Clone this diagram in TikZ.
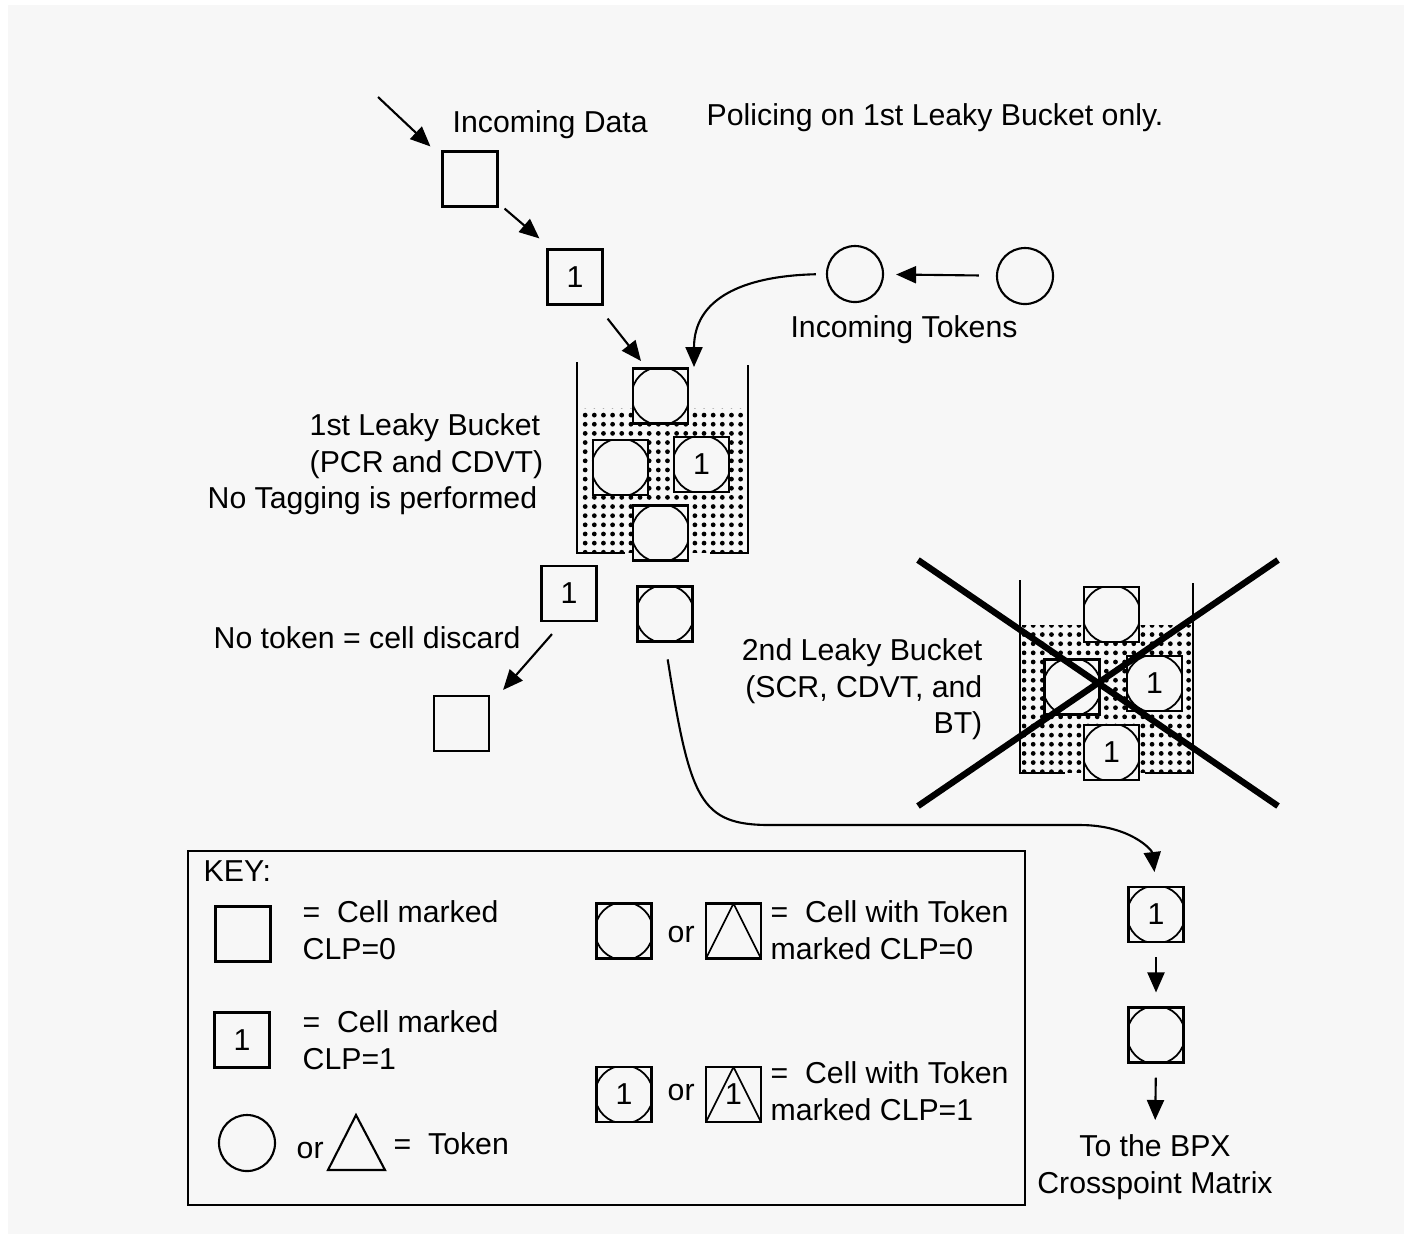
\documentclass[tikz,border=0pt]{standalone}
\usepackage{fontspec}
\setmainfont{Liberation Sans}
\usetikzlibrary{arrows.meta,patterns}
\definecolor{bg}{HTML}{F7F7F7}
\pgfdeclarepatternformonly{stipple}{\pgfpoint{-1pt}{-1pt}}{\pgfpoint{1pt}{1pt}}{\pgfpoint{2.6pt}{2.6pt}}{\pgfpathcircle{\pgfpointorigin}{0.68pt}\pgfusepath{fill}}
\tikzset{
  cell/.style={draw, rectangle, fill=bg, minimum size=0.55cm, inner sep=0pt, line width=0.6pt},
  tokcell/.style={cell, path picture={\draw[line width=0.5pt] (path picture bounding box.center) circle (0.29cm);}},
  tricell/.style={cell, path picture={\draw[line width=0.5pt] (path picture bounding box.south west) -- (path picture bounding box.north) -- (path picture bounding box.south east);}},
  token/.style={draw, circle, minimum size=0.56cm, inner sep=0pt, line width=0.6pt},
  txt/.style={inner sep=0pt},
  arr/.style={-{Triangle[length=0.2cm,width=0.17cm]}, line width=0.6pt},
  wall/.style={line width=0.6pt},
  liquid/.style={pattern=stipple, draw=none}
}
\begin{document}
\begin{tikzpicture}[x=0.01cm, y=-0.01cm, font=\fontsize{8.6}{10.4}\selectfont]
  \useasboundingbox (0,0) rectangle (1409,1238);
  \fill[white] (0,0) rectangle (1409,1238);
  \fill[bg] (8,5) rectangle (1404,1234);

  % Buckets
  \fill[liquid] (579,408) rectangle (746,552);
  \draw[wall] (577,362) -- (577,553) -- (625,553);
  \draw[wall] (748,365) -- (748,553) -- (710,553);
  \fill[liquid] (1022,625) rectangle (1191,772);
  \draw[wall] (1020,580) -- (1020,773) -- (1065,773);
  \draw[wall] (1193,583) -- (1193,773) -- (1145,773);

  % Nodes
  \node[txt, anchor=base west] (title) at (706,125) {Policing on 1st Leaky Bucket only.};
  \node[txt, anchor=base west] (datalbl) at (452,132) {Incoming Data};
  \coordinate (din) at (378,97);
  \node[cell] (d0) at (470,179) {};
  \node[cell] (d1) at (575,277) {1};

  \node[token] (tok1) at (855,274) {};
  \node[token] (tok2) at (1025,276) {};
  \node[txt, anchor=base] (toklbl) at (904,337) {Incoming Tokens};

  \coordinate (b1in) at (641,361);
  \coordinate (tokin) at (694,367);
  \node[tokcell] (b1top) at (660.5,396) {};
  \node[tokcell] (b1left) at (620.5,467.5) {};
  \node[tokcell] (b1right) at (701.5,464.5) {1};
  \node[tokcell] (b1bot) at (660.5,533) {};
  \node[txt, anchor=north west, align=left] (b1lbl) at (309,413) {1st Leaky Bucket\\(PCR and CDVT)};
  \node[txt, anchor=base west] (b1tag) at (207,508) {No Tagging is performed};

  \node[cell] (d2) at (569,593.5) {1};
  \node[tokcell] (t0) at (665,614) {};
  \node[txt, anchor=base west] (discard) at (213,648) {No token = cell discard};
  \node[cell] (d3) at (461.5,723.5) {};

  \node[tokcell] (b2top) at (1111.5,614.5) {};
  \node[tokcell] (b2left) at (1072,687) {};
  \node[tokcell] (b2right) at (1154.5,683.5) {1};
  \node[tokcell] (b2bot) at (1111.5,752.5) {1};
  \node[txt, anchor=north east, align=right] (b2lbl) at (983,638) {2nd Leaky Bucket\\(SCR, CDVT, and\\BT)};
  \draw[line width=1.8pt] (918,560) -- (1278,806);
  \draw[line width=1.8pt] (918,806) -- (1278,560);

  \node[tokcell] (c1) at (1156,914.5) {1};
  \node[tokcell] (c2) at (1156,1035) {};
  \node[txt, anchor=north, align=center] (bpx) at (1155,1134) {To the BPX\\Crosspoint Matrix};

  % Key
  \draw[line width=0.8pt] (188,851) rectangle (1025,1205);
  \node[txt, anchor=base west] (keylbl) at (203,881) {KEY:};
  \node[cell] (k0) at (243,934) {};
  \node[txt, anchor=north west, align=left] (k0lbl) at (302,900) {=~~Cell marked\\CLP=0};
  \node[cell] (k1) at (242,1040) {1};
  \node[txt, anchor=north west, align=left] (k1lbl) at (302,1010) {=~~Cell marked\\CLP=1};
  \node[token] (k2) at (247,1143) {};
  \node[txt, anchor=base west] (k2or) at (296,1158) {or};
  \draw[line width=0.6pt] (356,1115) -- (385,1170) -- (328,1170) -- cycle;
  \node[txt, anchor=base west] (k2lbl) at (393,1154) {=~~Token};
  \node[tokcell] (k3) at (624,931) {};
  \node[txt, anchor=base west] (k3or) at (667,942) {or};
  \node[tricell] (k4) at (733.5,931) {};
  \node[txt, anchor=north west, align=left] (k4lbl) at (770,900) {=~~Cell with Token\\marked CLP=0};
  \node[tokcell] (k5) at (624,1094.5) {1};
  \node[txt, anchor=base west] (k5or) at (667,1100) {or};
  \node[tricell] (k6) at (733.5,1094.5) {1};
  \node[txt, anchor=north west, align=left] (k6lbl) at (770,1061) {=~~Cell with Token\\marked CLP=1};

  % Edges
  \draw[arr] (din) -- ([xshift=-0.11cm,yshift=0.04cm]d0.north west);
  \draw[arr] ([xshift=0.06cm,yshift=-0.01cm]d0.south east) -- ([xshift=-0.07cm,yshift=0.1cm]d1.north west);
  \draw[arr] ([xshift=0.04cm,yshift=-0.13cm]d1.south east) -- (b1in);
  \draw[arr, shorten <=0.17cm, shorten >=0.12cm] (tok2) -- (tok1);
  \draw[arr, shorten <=0.1cm] (tok1.west) .. controls (740,276) and (694,300) .. (tokin);
  \draw[arr] ([xshift=-0.17cm,yshift=-0.12cm]d2.south) -- ([xshift=0.13cm,yshift=0.05cm]d3.north east);
  \draw[arr, shorten <=0.17cm, shorten >=0.14cm] (t0.south) .. controls (690,800) and (700,825) .. (770,825) -- (1080,825) .. controls (1130,825) and (1152,850) .. (c1.north);
  \draw[arr, shorten <=0.14cm, shorten >=0.14cm] (c1.south) -- (c2.north);
  \draw[arr, shorten <=0.14cm, shorten >=0.14cm] (c2.south) -- (bpx.north);
\end{tikzpicture}
\end{document}
